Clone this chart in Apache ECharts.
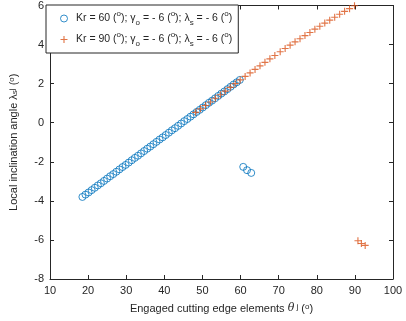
<!DOCTYPE html>
<html lang="en">
<head>
    <meta charset="UTF-8">
    <title>Local inclination angle</title>
    <script src="https://cdn.jsdelivr.net/npm/echarts@6/dist/echarts.min.js"></script>
    <style>
        html, body { margin: 0; padding: 0; background: #fff; }
    </style>
</head>
<body>
<div id="main" style="width: 406px; height: 321px;"></div>
<script>
    // tick labels
    var xTicks = [10, 100, 10];   // min, max, step
    var yTicks = [-8, 6, 2];

    // Kr = 60 : engaged elements theta (deg) and local inclination (deg)
    var theta60 = [18.5, 19.31, 20.12, 20.93, 21.74, 22.55, 23.36, 24.17, 24.98, 25.79,
        26.6, 27.41, 28.22, 29.03, 29.84, 30.65, 31.46, 32.27, 33.08, 33.89,
        34.7, 35.51, 36.32, 37.13, 37.94, 38.75, 39.56, 40.37, 41.18, 41.99,
        42.8, 43.61, 44.42, 45.23, 46.04, 46.85, 47.66, 48.47, 49.28, 50.09,
        50.9, 51.71, 52.52, 53.33, 54.14, 54.95, 55.76, 56.57, 57.38, 58.19,
        59.0, 59.81, 60.7, 61.7, 62.8];
    var lambda60 = [-3.80, -3.68, -3.57, -3.45, -3.33, -3.21, -3.10, -2.98, -2.86, -2.74,
        -2.63, -2.51, -2.39, -2.27, -2.16, -2.04, -1.92, -1.80, -1.69, -1.57,
        -1.45, -1.33, -1.22, -1.10, -0.98, -0.86, -0.75, -0.63, -0.51, -0.39,
        -0.28, -0.16, -0.04, 0.08, 0.19, 0.31, 0.43, 0.55, 0.66, 0.78,
        0.90, 1.02, 1.13, 1.25, 1.37, 1.49, 1.60, 1.72, 1.84, 1.96,
        2.07, 2.19, -2.26, -2.43, -2.57];

    // Kr = 90
    var theta90 = [48.2, 49.5, 50.8, 52.1, 53.4, 54.7, 56.0, 57.3, 58.6, 59.9,
        61.2, 62.5, 63.8, 65.1, 66.4, 67.7, 69.0, 70.4, 71.7, 73.0,
        74.3, 75.6, 76.9, 78.2, 79.5, 80.8, 82.1, 83.4, 84.7, 86.0,
        87.3, 88.6, 89.9, 90.8, 91.7, 92.7];
    var lambda90 = [0.53, 0.71, 0.88, 1.06, 1.25, 1.43, 1.62, 1.81, 2.00, 2.19,
        2.37, 2.55, 2.73, 2.91, 3.09, 3.27, 3.44, 3.63, 3.80, 3.97,
        4.14, 4.30, 4.46, 4.62, 4.79, 4.94, 5.10, 5.25, 5.40, 5.55,
        5.70, 5.84, 5.99, -6.04, -6.18, -6.28];

    var seriesNames = ['Kr60', 'Kr90'];
    var legendText = {
        'Kr60': 'Kr = 60 ({s|o}); γ{b|o} = - 6 ({s|o}); λ{b|s} = - 6 ({s|o})',
        'Kr90': 'Kr = 90 ({s|o}); γ{b|o} = - 6 ({s|o}); λ{b|s} = - 6 ({s|o})'
    };

    function pairs(xs, ys) {
        var out = [];
        for (var i = 0; i < xs.length; i++) {
            out.push([xs[i], ys[i]]);
        }
        return out;
    }

    var txt = '#262626';
    var font = 'Liberation Sans, Arial, sans-serif';
    var rich = {
        s: { fontSize: 8, lineHeight: 9, verticalAlign: 'top', fontFamily: font, color: txt },
        b: { fontSize: 8, lineHeight: 9, verticalAlign: 'bottom', fontFamily: font, color: txt },
        i: { fontSize: 11, fontStyle: 'italic', fontFamily: 'DejaVu Serif, serif', color: txt }
    };

    var plusPath = 'path://M4.2,0h1.6v4.2h4.2v1.6h-4.2v4.2h-1.6v-4.2h-4.2v-1.6h4.2z';

    var axisCommon = {
        axisLine: { show: true, onZero: false, lineStyle: { color: txt, width: 1 } },
        axisTick: { show: true, inside: true, length: 4, lineStyle: { color: txt } },
        splitLine: { show: false }
    };

    var mychart = echarts.init(document.getElementById('main'));

    var option = {
        backgroundColor: '#fff',
        animation: false,
        grid: { left: 46, right: 13, top: 5, bottom: 42 },
        legend: {
            data: [
                { name: seriesNames[0], itemStyle: { color: 'rgba(0,0,0,0)', borderColor: '#0072BD', borderWidth: 1 } },
                { name: seriesNames[1] }
            ],
            orient: 'vertical',
            left: 46,
            top: 5,
            padding: [5, 6, 5, 14],
            itemGap: 4,
            itemWidth: 14,
            itemHeight: 7,
            backgroundColor: '#fff',
            borderColor: txt,
            borderWidth: 1,
            formatter: function (name) { return legendText[name]; },
            textStyle: { fontSize: 10.5, lineHeight: 17, fontFamily: font, color: txt, rich: rich }
        },
        xAxis: [
            Object.assign({
                type: 'value', min: xTicks[0], max: xTicks[1], interval: xTicks[2],
                position: 'bottom',
                name: 'Engaged cutting edge elements {i|θ}{s| j} ({s|o})',
                nameLocation: 'middle', nameGap: 24,
                nameTextStyle: { fontSize: 11, fontFamily: font, color: txt, rich: rich },
                axisLabel: { fontSize: 11, fontFamily: font, color: txt, margin: 6 }
            }, axisCommon),
            Object.assign({
                type: 'value', min: xTicks[0], max: xTicks[1], interval: xTicks[2],
                position: 'top', axisLabel: { show: false }
            }, axisCommon)
        ],
        yAxis: [
            Object.assign({
                type: 'value', min: yTicks[0], max: yTicks[1], interval: yTicks[2],
                position: 'left',
                name: 'Local inclination angle λ{b|s}{s|j} ({s|o})',
                nameLocation: 'middle', nameGap: 31,
                nameTextStyle: { fontSize: 11, fontFamily: font, color: txt, rich: rich },
                axisLabel: { fontSize: 11, fontFamily: font, color: txt, margin: 6 }
            }, axisCommon),
            Object.assign({
                type: 'value', min: yTicks[0], max: yTicks[1], interval: yTicks[2],
                position: 'right', axisLabel: { show: false }
            }, axisCommon)
        ],
        series: [
            {
                name: seriesNames[0],
                type: 'scatter',
                symbol: 'circle',
                symbolSize: 7,
                itemStyle: { color: 'rgba(0,0,0,0)', borderColor: '#0072BD', borderWidth: 1 },
                data: pairs(theta60, lambda60)
            },
            {
                name: seriesNames[1],
                type: 'scatter',
                symbol: plusPath,
                symbolSize: 7,
                itemStyle: { color: '#D95319' },
                data: pairs(theta90, lambda90)
            }
        ]
    };
    mychart.setOption(option);
</script>
</body>
</html>
